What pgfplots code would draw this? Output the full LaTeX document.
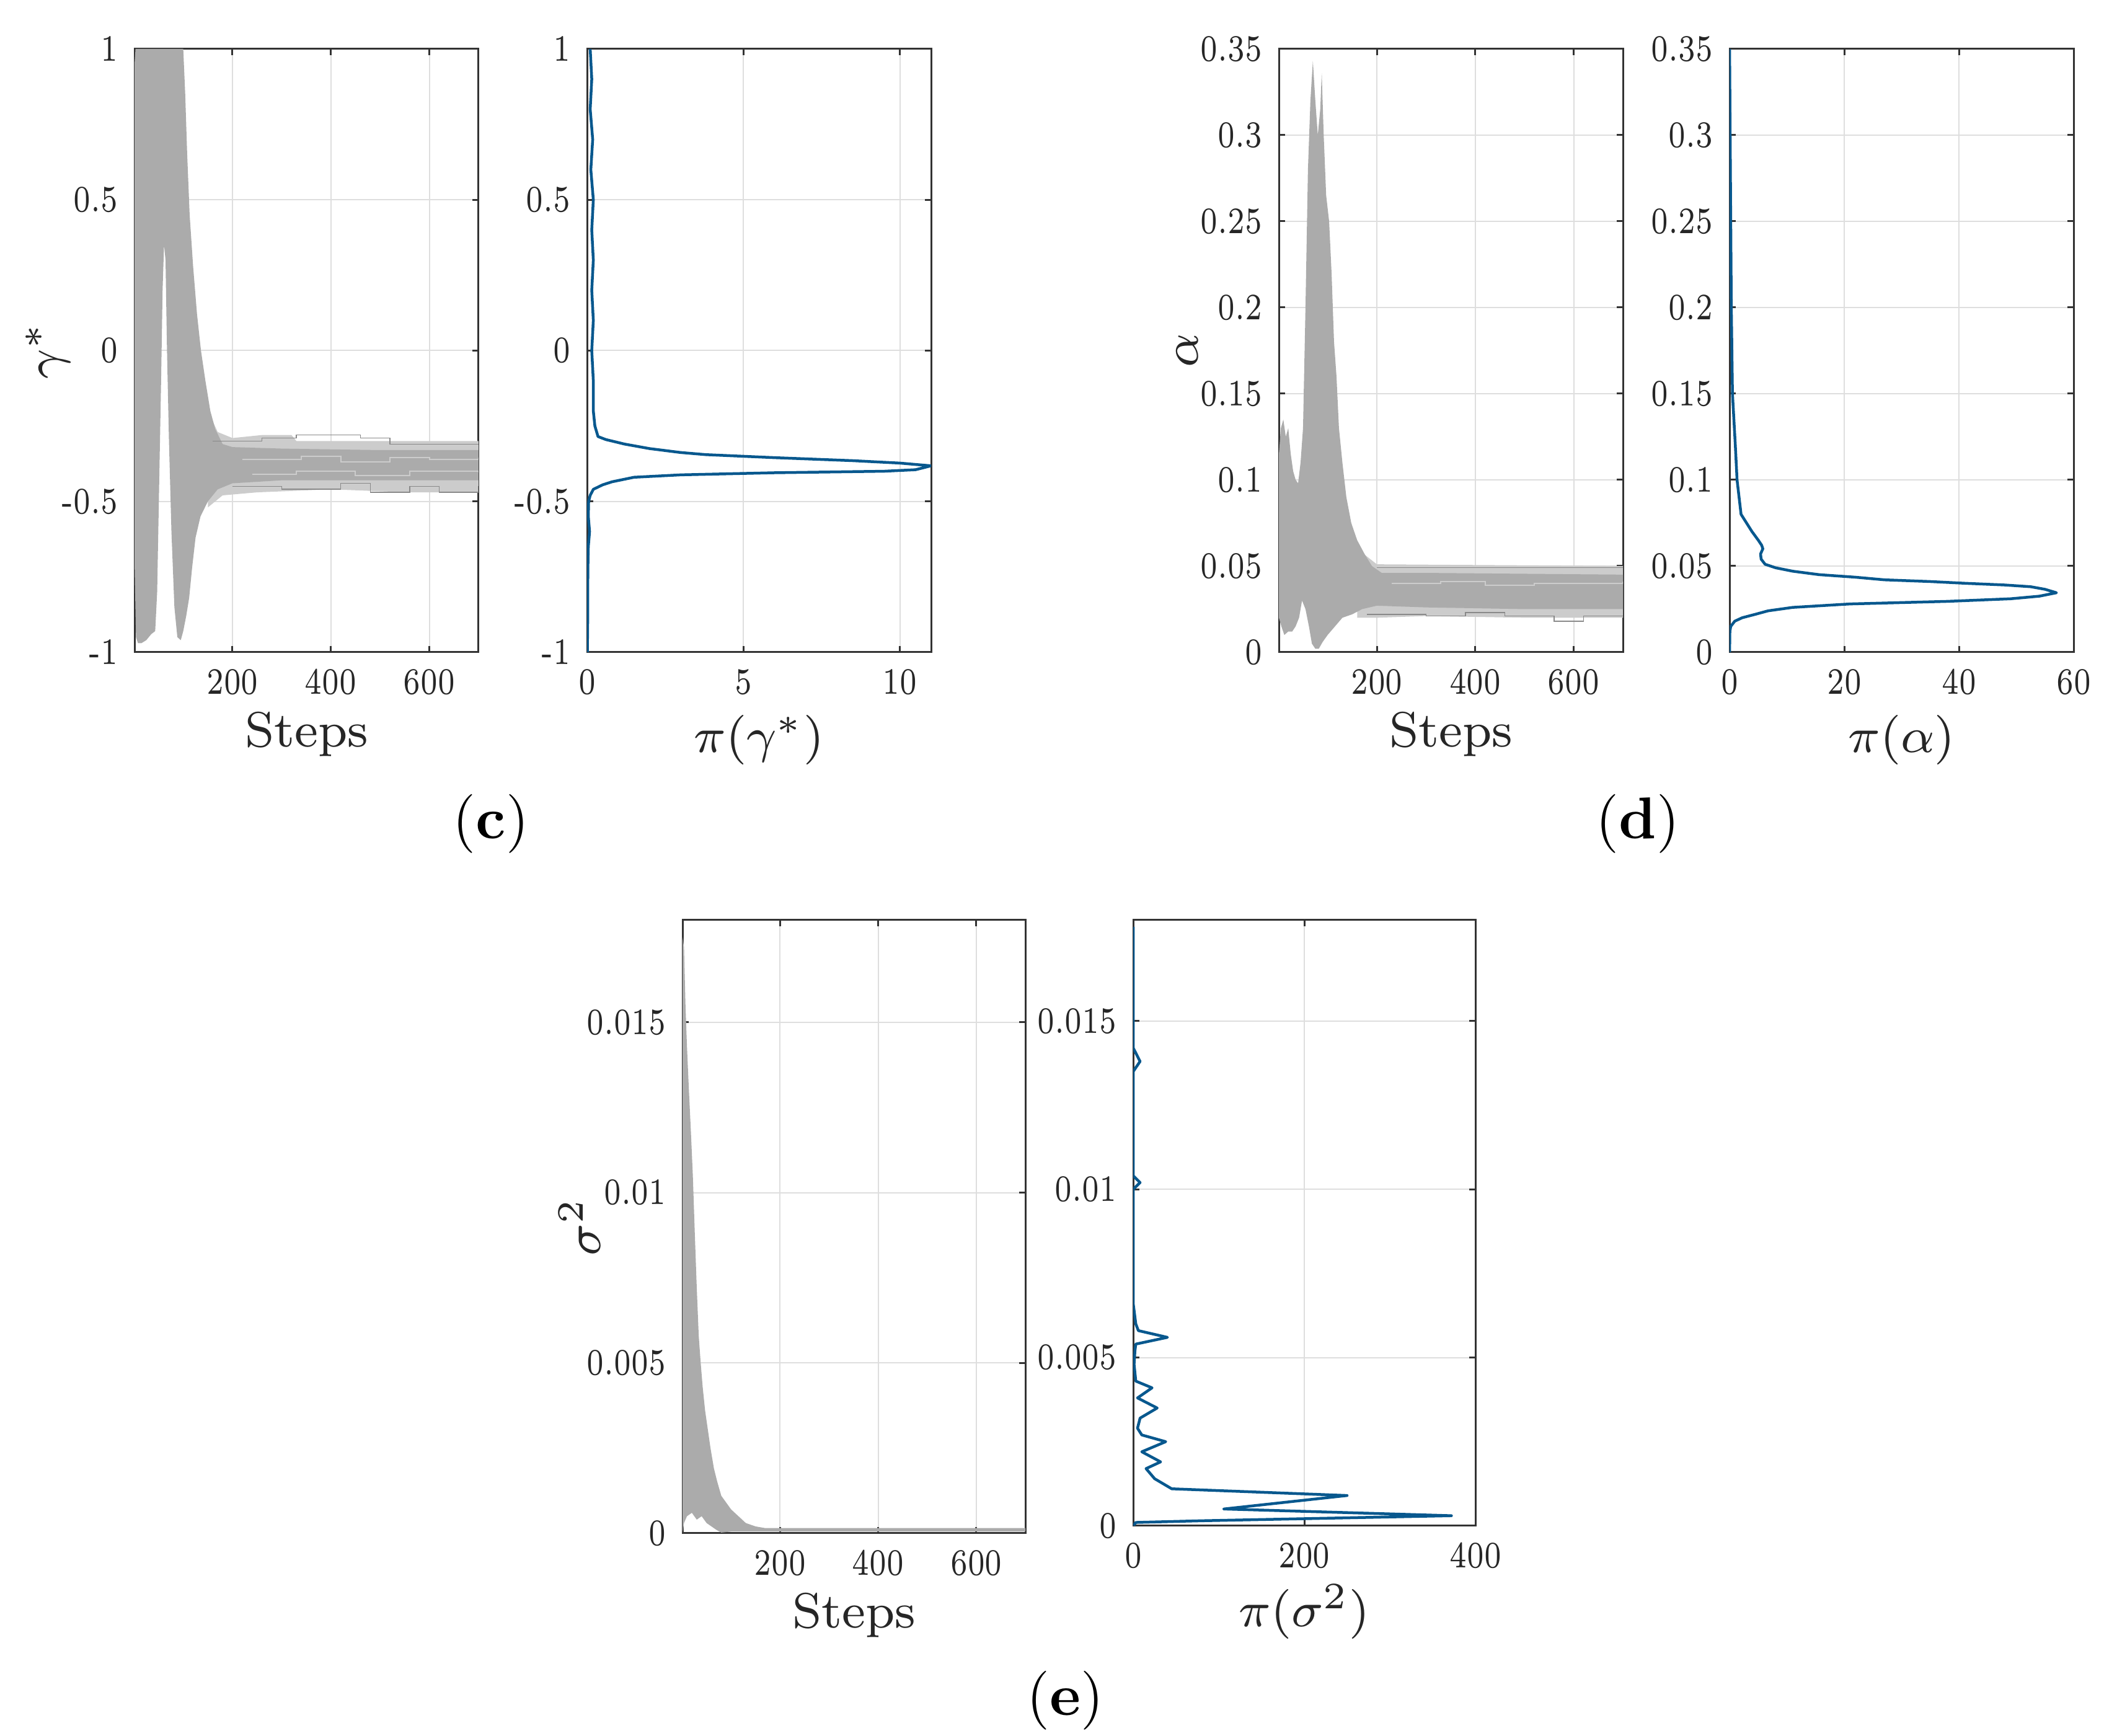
\documentclass[border=0pt]{standalone}
\usepackage{fontspec}
\usepackage{pgfplots}
\pgfplotsset{compat=1.18}
\definecolor{tracegray}{rgb}{0.67,0.67,0.67}
\definecolor{tracelight}{rgb}{0.80,0.80,0.80}
\definecolor{kdeblue}{RGB}{8,88,142}
\definecolor{axcol}{rgb}{0.2,0.2,0.2}
\pgfplotsset{
  mat/.style={
    scale only axis, anchor=south west,
    scaled ticks=false,
    axis line style={line width=0.3pt, draw=axcol},
    grid=major, major grid style={line width=0.2pt, draw=black!13},
    tick align=inside, xtick pos=both, ytick pos=both,
    major tick length=1.0pt, tick style={line width=0.3pt, draw=axcol},
    ticklabel style={font=\fontsize{6}{7}\selectfont, text=black!85, xscale=0.76},
    xticklabel style={yshift=0.8pt},
    label style={font=\fontsize{8}{9.6}\selectfont, text=black!85},
  },
  trace/.style={draw=none, fill=tracegray},
  tracelt/.style={draw=none, fill=tracelight},
  strand/.style={const plot, line width=0.15pt, draw=tracegray!80!black},
  streak/.style={const plot, line width=0.2pt, draw=tracelight},
  kde/.style={line width=0.45pt, draw=kdeblue, line join=round},
}
\begin{document}
\begin{tikzpicture}
\path[use as bounding box] (0,0) rectangle (341.5pt,280pt);

% ---------------- (c) left
\begin{axis}[mat, at={(21.7pt,174.8pt)}, width=55.5pt, height=97.3pt,
  xmin=1, xmax=700, ymin=-1, ymax=1,
  xtick={200,400,600}, xticklabels={200,400,600},
  ytick={-1,-0.5,0,0.5,1}, yticklabels={-1,-0.5,0,0.5,1},
  xlabel={Steps}, ylabel={$\gamma^{*}$},
  xlabel style={at={(axis description cs:0.5,-0.136)}, anchor=center},
  ylabel style={at={(axis description cs:-0.252,0.5)}, anchor=center}]
\addplot[tracelt] coordinates {(150,-0.2)(170,-0.27)(200,-0.29)(260,-0.28)(320,-0.28)(330,-0.3)(700,-0.3)(700,-0.47)(560,-0.47)(400,-0.46)(250,-0.47)(180,-0.48)(150,-0.52)} -- cycle;
\addplot[trace] coordinates {(1,0.95)(3,1)(100,1)(104,0.85)(108,0.65)(113,0.45)(120,0.28)(128,0.12)(136,0.0)(145,-0.1)(155,-0.2)(165,-0.26)(180,-0.31)(200,-0.32)(300,-0.325)(500,-0.33)(700,-0.33)
(700,-0.43)(500,-0.43)(300,-0.43)(200,-0.44)(170,-0.46)(150,-0.5)(135,-0.55)(125,-0.62)(118,-0.72)(112,-0.82)(106,-0.88)(100,-0.93)(95,-0.96)(88,-0.95)(82,-0.85)(76,-0.6)(71,-0.3)(67,0.0)(64,0.3)(61,0.35)(58,0.2)(55,-0.1)(51,-0.45)(47,-0.8)(43,-0.93)(35,-0.94)(25,-0.96)(15,-0.97)(8,-0.97)(4,-0.95)(1,-0.7)} -- cycle;
\addplot[streak] coordinates {(220,-0.36)(340,-0.35)(420,-0.37)(520,-0.355)(600,-0.36)(700,-0.355)};
\addplot[streak] coordinates {(240,-0.41)(330,-0.40)(450,-0.415)(560,-0.40)(700,-0.405)};
\addplot[strand] coordinates {(160,-0.30)(260,-0.29)(330,-0.28)(460,-0.29)(520,-0.31)(700,-0.31)};
\addplot[strand] coordinates {(200,-0.45)(300,-0.46)(420,-0.44)(480,-0.47)(560,-0.45)(620,-0.47)(700,-0.45)};
\end{axis}

% ---------------- (c) right
\begin{axis}[mat, at={(94.7pt,174.8pt)}, width=55.5pt, height=97.3pt,
  xmin=0, xmax=11, ymin=-1, ymax=1,
  xtick={0,5,10}, xticklabels={0,5,10},
  ytick={-1,-0.5,0,0.5,1}, yticklabels={-1,-0.5,0,0.5,1},
  xlabel={$\pi(\gamma^{*})$},
  xlabel style={at={(axis description cs:0.5,-0.145)}, anchor=center}]
\addplot[kde] coordinates {(0.1,1.0)(0.15,0.9)(0.1,0.8)(0.18,0.7)(0.12,0.6)(0.2,0.5)(0.15,0.4)(0.2,0.3)(0.15,0.2)(0.2,0.1)(0.15,0)(0.2,-0.1)(0.2,-0.2)(0.25,-0.25)(0.35,-0.285)(0.6,-0.295)(1.2,-0.31)(2.0,-0.325)(3.0,-0.338)(3.8,-0.345)(6.0,-0.355)(8.5,-0.365)(10.0,-0.373)(11.0,-0.382)(10.5,-0.395)(9.5,-0.400)(6,-0.405)(3,-0.412)(1.5,-0.42)(0.8,-0.435)(0.5,-0.445)(0.2,-0.46)(0.1,-0.48)(0.05,-0.5)(0.04,-0.55)(0.08,-0.6)(0.04,-0.65)(0.03,-0.7)(0.02,-0.8)(0.02,-0.9)(0.01,-1.0)};
\end{axis}

% ---------------- (d) left
\begin{axis}[mat, at={(206.3pt,174.8pt)}, width=55.5pt, height=97.3pt,
  xmin=1, xmax=700, ymin=0, ymax=0.35,
  xtick={200,400,600}, xticklabels={200,400,600},
  ytick={0,0.05,0.1,0.15,0.2,0.25,0.3,0.35}, yticklabels={0,0.05,0.1,0.15,0.2,0.25,0.3,0.35},
  xlabel={Steps}, ylabel={$\alpha$},
  xlabel style={at={(axis description cs:0.5,-0.136)}, anchor=center},
  ylabel style={at={(axis description cs:-0.267,0.5)}, anchor=center}]
\addplot[tracelt] coordinates {(160,0.06)(200,0.051)(700,0.05)(700,0.02)(500,0.02)(300,0.021)(200,0.02)(160,0.02)} -- cycle;
\addplot[trace] coordinates {(1,0.115)(5,0.13)(10,0.135)(15,0.125)(20,0.13)(25,0.115)(30,0.105)(35,0.1)(40,0.098)(45,0.11)(50,0.13)(55,0.2)(60,0.28)(65,0.32)(70,0.343)(75,0.32)(80,0.30)(85,0.315)(88,0.336)(92,0.3)(97,0.265)(103,0.25)(108,0.22)(113,0.18)(118,0.16)(123,0.13)(130,0.11)(138,0.09)(148,0.075)(160,0.065)(175,0.057)(190,0.05)(210,0.046)(300,0.046)(700,0.045)
(700,0.025)(500,0.025)(300,0.026)(200,0.027)(170,0.025)(150,0.022)(130,0.02)(115,0.015)(100,0.01)(90,0.006)(82,0.002)(75,0.002)(68,0.005)(62,0.015)(55,0.025)(48,0.03)(42,0.02)(35,0.015)(28,0.012)(20,0.012)(12,0.01)(6,0.015)(1,0.02)} -- cycle;
\addplot[streak] coordinates {(230,0.040)(330,0.041)(420,0.039)(520,0.040)(700,0.041)};
\addplot[strand] coordinates {(200,0.049)(700,0.049)};
\addplot[strand] coordinates {(180,0.022)(300,0.021)(380,0.023)(460,0.021)(560,0.018)(620,0.021)(700,0.021)};
\end{axis}

% ---------------- (d) right
\begin{axis}[mat, at={(279.0pt,174.8pt)}, width=55.5pt, height=97.3pt,
  xmin=0, xmax=60, ymin=0, ymax=0.35,
  xtick={0,20,40,60}, xticklabels={0,20,40,60},
  ytick={0,0.05,0.1,0.15,0.2,0.25,0.3,0.35}, yticklabels={0,0.05,0.1,0.15,0.2,0.25,0.3,0.35},
  xlabel={$\pi(\alpha)$},
  xlabel style={at={(axis description cs:0.5,-0.145)}, anchor=center}]
\addplot[kde] coordinates {(0,0.35)(0.1,0.3)(0.2,0.25)(0.3,0.2)(0.5,0.15)(1.0,0.12)(1.3,0.1)(2.0,0.08)(3.9,0.07)(5.0,0.065)(5.6,0.062)(5.8,0.06)(5.4,0.057)(5.5,0.054)(6.2,0.051)(8,0.049)(11,0.047)(15.6,0.045)(22,0.0435)(27,0.042)(35,0.041)(41,0.04)(48,0.039)(52.5,0.038)(55,0.0365)(57,0.0345)(54,0.0325)(49,0.031)(38,0.0295)(21,0.028)(11,0.026)(6.7,0.024)(4.5,0.022)(2.2,0.02)(0.9,0.018)(0.2,0.015)(0.05,0.012)(0,0.0)};
\end{axis}

% ---------------- (e) left
\begin{axis}[mat, at={(110.1pt,32.7pt)}, width=55.3pt, height=98.9pt,
  xmin=1, xmax=700, ymin=0, ymax=0.018,
  xtick={200,400,600}, xticklabels={200,400,600},
  ytick={0,0.005,0.01,0.015}, yticklabels={0,0.005,0.01,0.015},
  xlabel={Steps}, ylabel={$\sigma^{2}$},
  xlabel style={at={(axis description cs:0.5,-0.1335)}, anchor=center},
  ylabel style={at={(axis description cs:-0.30,0.5)}, anchor=center}]
\addplot[trace] coordinates {(1,0.0175)(4,0.0172)(7,0.0155)(10,0.0143)(14,0.013)(18,0.0118)(22,0.0105)(26,0.0088)(30,0.0072)(34,0.0058)(38,0.0050)(42,0.0043)(47,0.0036)(52,0.0031)(58,0.0025)(65,0.0019)(72,0.0015)(80,0.0011)(90,0.0009)(100,0.0007)(115,0.0005)(130,0.0003)(150,0.0002)(170,0.00015)(700,0.00015)
(700,0.00005)(170,0.00005)(100,0.00005)(80,0.00002)(70,0.0001)(60,0.0002)(50,0.0003)(40,0.0005)(30,0.0004)(20,0.0006)(10,0.0005)(4,0.0003)(1,0.0)} -- cycle;
\end{axis}

% ---------------- (e) right
\begin{axis}[mat, at={(182.8pt,33.9pt)}, width=55.2pt, height=97.7pt,
  xmin=0, xmax=400, ymin=0, ymax=0.018,
  xtick={0,200,400}, xticklabels={0,200,400},
  ytick={0,0.005,0.01,0.015}, yticklabels={0,0.005,0.01,0.015},
  xlabel={$\pi(\sigma^{2})$},
  xlabel style={at={(axis description cs:0.5,-0.142)}, anchor=center}]
\addplot[kde] coordinates {(0,0.0178)(0,0.0142)(8,0.0138)(0,0.0135)(0,0.0104)(8,0.0102)(0,0.0100)(0,0.0066)(3,0.0060)(6,0.0058)(40,0.0056)(3,0.0054)(2,0.0052)(1,0.0048)(3,0.0043)(22,0.0041)(5,0.0038)(28,0.0035)(8,0.0032)(5,0.0029)(10,0.0027)(38,0.0025)(10,0.0022)(32,0.0019)(15,0.0017)(25,0.0014)(45,0.0011)(250,0.0009)(106,0.0005)(372,0.0003)(80,0.00015)(3,0.0001)(0,0.0)};
\end{axis}

% panel labels
\node[font=\fontsize{9.5}{11}\selectfont] at (79.2pt,147.1pt) {(\textbf{c})};
\node[font=\fontsize{9.5}{11}\selectfont] at (264.2pt,147.1pt) {(\textbf{d})};
\node[font=\fontsize{9.5}{11}\selectfont] at (171.8pt,5.7pt) {(\textbf{e})};
\end{tikzpicture}
\end{document}
